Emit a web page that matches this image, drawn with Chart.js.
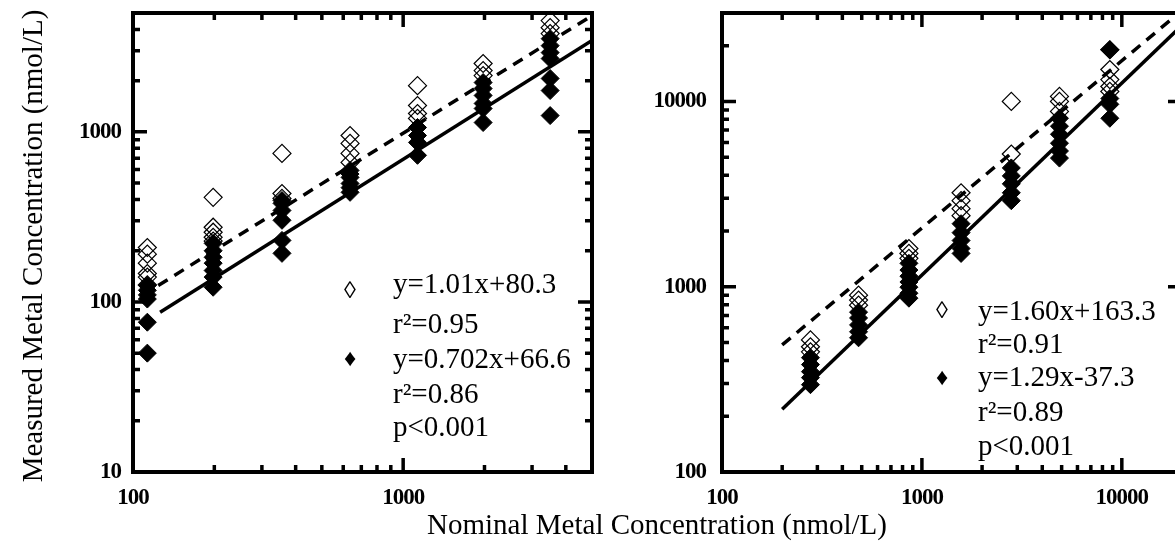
<!DOCTYPE html>
<html>
<head>
<meta charset="utf-8">
<script src="https://cdn.jsdelivr.net/npm/chart.js@4.4.1/dist/chart.umd.min.js"></script>
<style>
    html, body { margin: 0; padding: 0; background: #fff; overflow: hidden; width: 1175px; height: 544px; }
    #graficoEsq { position: absolute; left: 0; top: 0; }
    #graficoDir { position: absolute; left: 620px; top: 0; }
    .titulo { position: absolute; line-height: 32px; text-align: center; white-space: nowrap;
              font-family: "Liberation Serif", "Times New Roman", serif; font-size: 29px; color: #000; }
    #tituloX { left: 0; width: 1314px; top: 508px; }
    #tituloY { left: -218px; width: 500px; top: 230px; transform: rotate(-90deg); }
</style>
</head>
<body>
<canvas id="graficoEsq" width="620" height="544"></canvas>
<canvas id="graficoDir" width="620" height="544"></canvas>
<div class="titulo" id="tituloX">Nominal Metal Concentration (nmol/L)</div>
<div class="titulo" id="tituloY">Measured Metal Concentration (nmol/L)</div>
<script>
// tick labels
const xTicksLeft = [100, 1000];
const yTicksLeft = [10, 100, 1000];
const xTicksRight = [100, 1000, 10000];
const yTicksRight = [100, 1000, 10000];

// left panel - nominal concentrations and measured values (nmol/L)
const leftNominal = [113, 198, 356, 636, 1130, 1977, 3500];
const leftOpen = [
    [209, 191, 169, 147, 140, 126],
    [412, 275, 257, 240, 228],
    [747, 434, 406],
    [952, 855, 747, 661],
    [1870, 1429, 1282, 1200],
    [2524, 2292, 2143],
    [4510, 4100, 3785]
];
const leftFilled = [
    [125, 117, 110, 104, 76, 50],
    [221, 200, 183, 169, 153, 140, 122],
    [395, 380, 345, 302, 230, 193],
    [593, 565, 540, 497, 470, 441],
    [1061, 952, 867, 728],
    [1950, 1798, 1637, 1469, 1372, 1135],
    [3533, 3214, 2924, 2698, 2060, 1750, 1247]
];
const leftFitOpen = [[124, 125], [5000, 4820]];
const leftFitFilled = [[126, 87], [5000, 3443]];
const leftLegend = ['y=1.01x+80.3', 'r²=0.95', 'y=0.702x+66.6', 'r²=0.86', 'p<0.001'];

// right panel
const rightNominal = [277, 482, 861, 1570, 2800, 4876, 8710];
const rightOpen = [
    [516, 474, 445],
    [900, 847, 795],
    [1607, 1512, 1422],
    [3213, 2912, 2637, 2418],
    [10000, 5200],
    [10640, 10000, 8830],
    [19000, 14860, 13120, 12030, 11320]
];
const rightFilled = [
    [414, 380, 348, 323, 296],
    [729, 678, 622, 571, 530],
    [1337, 1230, 1140, 1060, 994, 922, 867],
    [2188, 1958, 1775, 1607, 1512],
    [4375, 3963, 3590, 3213, 2912],
    [8110, 7350, 6650, 5950, 5400, 4945],
    [19000, 10370, 9640, 8110]
];
const rightFitOpen = [[200, 485], [20000, 31000]];
const rightFitFilled = [[200, 218], [20000, 25770]];
const rightLegend = ['y=1.60x+163.3', 'r²=0.91', 'y=1.29x-37.3', 'r²=0.89', 'p<0.001'];

const FONTE = '"Liberation Serif", "Times New Roman", serif';

function pontos(nominal, valores) {
    const out = [];
    nominal.forEach(function(c, i) {
        valores[i].forEach(function(v) { out.push({x: c, y: v}); });
    });
    return out;
}

function reta(p) {
    return p.map(function(q) { return {x: q[0], y: q[1]}; });
}

function marcasLog(min, max) {
    const out = [];
    for (let d = Math.floor(Math.log10(min)); d <= Math.ceil(Math.log10(max)); d++) {
        for (let k = 1; k <= 9; k++) {
            const v = k * Math.pow(10, d);
            if (v >= min * 0.999 && v <= max * 1.001) out.push({v: v, major: k === 1});
        }
    }
    return out;
}

// frame, inward ticks on four sides, legend text
function decoracao(legenda, lay) {
    return {
        id: 'decoracao',
        beforeDraw(chart) {
            // tick labels of the original are narrow
            chart.ctx.letterSpacing = '-1px';
        },
        afterDatasetsDraw(chart) {
            const ctx = chart.ctx, a = chart.chartArea;
            const sx = chart.scales.x, sy = chart.scales.y;
            ctx.save();
            ctx.letterSpacing = '0px';
            ctx.strokeStyle = '#000';
            ctx.lineWidth = 4;
            ctx.strokeRect(a.left, a.top, a.right - a.left, a.bottom - a.top);
            ctx.lineWidth = 3.5;
            marcasLog(sx.min, sx.max).forEach(function(t) {
                const p = sx.getPixelForValue(t.v), len = t.major ? 14 : 7;
                ctx.beginPath();
                ctx.moveTo(p, a.bottom); ctx.lineTo(p, a.bottom - len);
                ctx.moveTo(p, a.top); ctx.lineTo(p, a.top + len);
                ctx.stroke();
            });
            marcasLog(sy.min, sy.max).forEach(function(t) {
                const p = sy.getPixelForValue(t.v), len = t.major ? 14 : 7;
                ctx.beginPath();
                ctx.moveTo(a.left, p); ctx.lineTo(a.left + len, p);
                ctx.moveTo(a.right, p); ctx.lineTo(a.right - len, p);
                ctx.stroke();
            });

            ctx.fillStyle = '#000';
            ctx.textBaseline = 'middle';
            ctx.textAlign = 'center';
            ctx.font = '24px ' + FONTE;
            ctx.fillText('◊', lay.simboloX, lay.simboloY[0]);
            ctx.fillText('♦', lay.simboloX, lay.simboloY[1]);
            ctx.textAlign = 'left';
            ctx.font = '29px ' + FONTE;
            legenda.forEach(function(t, i) {
                ctx.fillText(t, lay.textoX, lay.linhaY[i]);
            });
            ctx.restore();
        }
    };
}

function painel(canvasId, cfg) {
    const ctx = document.getElementById(canvasId).getContext('2d');
    return new Chart(ctx, {
        type: 'scatter',
        data: {
            datasets: [
                {
                    label: 'ajuste aberto',
                    data: reta(cfg.fitOpen),
                    showLine: true,
                    borderColor: '#000',
                    borderWidth: 3.5,
                    borderDash: [11, 8],
                    pointRadius: 0,
                    clip: 0,
                    order: 0
                },
                {
                    label: 'ajuste cheio',
                    data: reta(cfg.fitFilled),
                    showLine: true,
                    borderColor: '#000',
                    borderWidth: 3.5,
                    pointRadius: 0,
                    clip: 0,
                    order: 0
                },
                {
                    label: 'aberto',
                    data: pontos(cfg.nominal, cfg.open),
                    pointStyle: 'rectRot',
                    pointRadius: 9,
                    borderWidth: 1.2,
                    borderColor: '#000',
                    backgroundColor: 'rgba(0,0,0,0)',
                    clip: false,
                    order: 1
                },
                {
                    label: 'cheio',
                    data: pontos(cfg.nominal, cfg.filled),
                    pointStyle: 'rectRot',
                    pointRadius: 9,
                    borderWidth: 1,
                    borderColor: '#000',
                    backgroundColor: '#000',
                    clip: false,
                    order: 2
                }
            ]
        },
        options: {
            responsive: false,
            animation: false,
            events: [],
            layout: { padding: { top: 13, right: cfg.padRight, left: 0, bottom: 0 } },
            plugins: { legend: { display: false }, tooltip: { enabled: false } },
            scales: {
                x: {
                    type: 'logarithmic',
                    min: cfg.xMin, max: cfg.xMax,
                    grid: { display: false, drawTicks: false },
                    border: { display: false },
                    ticks: {
                        font: { family: FONTE, size: 23, weight: 'bold' },
                        color: '#000',
                        padding: 12,
                        maxRotation: 0,
                        autoSkip: false,
                        callback: function(v) { return String(v); }
                    },
                    afterBuildTicks: function(s) { s.ticks = cfg.xTicks.map(function(v) { return {value: v}; }); },
                    afterFit: function(s) { s.height = 72; s.paddingLeft = 0; s.paddingRight = 0; }
                },
                y: {
                    type: 'logarithmic',
                    min: cfg.yMin, max: cfg.yMax,
                    grid: { display: false, drawTicks: false },
                    border: { display: false },
                    ticks: {
                        font: { family: FONTE, size: 23, weight: 'bold' },
                        color: '#000',
                        padding: cfg.yPad,
                        autoSkip: false,
                        callback: function(v) { return String(v); }
                    },
                    afterBuildTicks: function(s) { s.ticks = cfg.yTicks.map(function(v) { return {value: v}; }); },
                    afterFit: function(s) { s.width = cfg.yWidth; s.paddingTop = 0; s.paddingBottom = 0; }
                }
            }
        },
        plugins: [decoracao(cfg.legend, cfg.lay)]
    });
}

// left plot
painel('graficoEsq', {
    nominal: leftNominal, open: leftOpen, filled: leftFilled,
    fitOpen: leftFitOpen, fitFilled: leftFitFilled, legend: leftLegend,
    xTicks: xTicksLeft, yTicks: yTicksLeft,
    xMin: 100, xMax: 5000, yMin: 10, yMax: 5000,
    yWidth: 133, padRight: 28, yPad: 12,
    lay: { simboloX: 350, simboloY: [292, 360], textoX: 393, linhaY: [285, 325, 360, 395, 428] }
});

// right plot
painel('graficoDir', {
    nominal: rightNominal, open: rightOpen, filled: rightFilled,
    fitOpen: rightFitOpen, fitFilled: rightFitFilled, legend: rightLegend,
    xTicks: xTicksRight, yTicks: yTicksRight,
    xMin: 100, xMax: 20000, yMin: 100, yMax: 30000,
    yWidth: 102, padRight: 58, yPad: 16,
    lay: { simboloX: 322, simboloY: [312, 379], textoX: 358, linhaY: [312, 345, 378, 413, 447] }
});
</script>
</body>
</html>
